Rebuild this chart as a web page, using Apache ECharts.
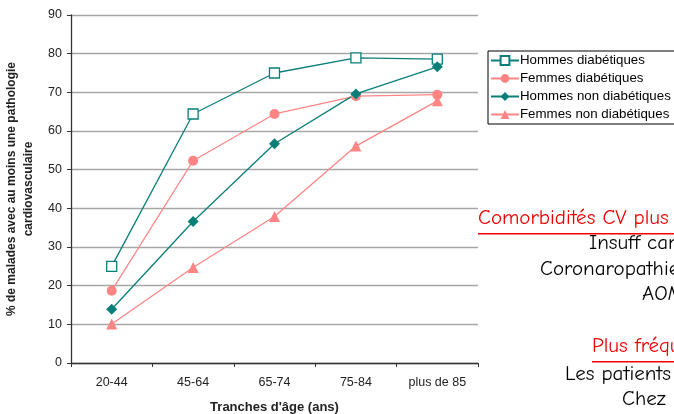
<!DOCTYPE html>
<html><head><meta charset="utf-8">
<script src="https://cdn.jsdelivr.net/npm/echarts@6/dist/echarts.min.js"></script>
<style>html,body{margin:0;padding:0;background:#fff}#c{width:674px;height:414px}</style>
</head><body><div id="c"></div>
<script>
var categories = ['20-44', '45-64', '65-74', '75-84', 'plus de 85'];
var hommesDiab = [25, 64.4, 75, 78.9, 78.6];
var femmesDiab = [18.7, 52.3, 64.4, 69, 69.4];
var hommesNonDiab = [13.9, 36.6, 56.7, 69.6, 76.6];
var femmesNonDiab = [10.1, 24.7, 37.9, 56.1, 67.8];
var seriesNames = ['Hommes diabétiques', 'Femmes diabétiques', 'Hommes non diabétiques', 'Femmes non diabétiques'];
var yTicks = [0, 10, 20, 30, 40, 50, 60, 70, 80, 90];

var teal = '#0a7f7a', pink = '#ff8585';
var chart = echarts.init(document.getElementById('c'));
function s(name, data, color, symbol, size, hollow) {
  return {
    name: name, type: 'line', data: data, symbol: symbol, symbolSize: size,
    showAllSymbol: true,
    lineStyle: { color: color, width: 1.3 },
    itemStyle: { color: hollow ? '#fff' : color, borderColor: color, borderWidth: hollow ? 1.3 : 0 },
    emphasis: { disabled: true }, animation: false
  };
}
var sideFont = '"Comic Sans MS","Comic Neue","DejaVu Sans",sans-serif';
var ff = 'Arial, "Liberation Sans", sans-serif';
chart.setOption({
  backgroundColor: '#fff',
  animation: false,
  grid: { left: 71, right: 196, top: 15, bottom: 51, containLabel: false, outerBoundsMode: 'none' },
  legend: {
    orient: 'vertical', left: 488, top: 51,
    data: seriesNames,
    itemWidth: 28, itemHeight: 11, itemGap: 5,
    borderColor: '#000', borderWidth: 1,
    padding: [3, 30, 3, 2],
    textStyle: { fontFamily: ff, fontSize: 13.3, color: '#000', padding: [0, 0, 0, -4] }
  },
  xAxis: {
    type: 'category', data: categories, boundaryGap: true,
    name: "Tranches d'âge (ans)", nameLocation: 'middle', nameGap: 38,
    nameTextStyle: { fontFamily: ff, fontWeight: 'bold', fontSize: 13, color: '#222' },
    axisLine: { lineStyle: { color: '#333', width: 1.3 } },
    axisTick: { show: true, alignWithLabel: false, length: 4, lineStyle: { color: '#333' } },
    axisLabel: { fontFamily: ff, fontSize: 12.5, color: '#222', margin: 13 }
  },
  yAxis: {
    type: 'value', min: yTicks[0], max: yTicks[yTicks.length - 1], interval: 10,
    name: '% de malades avec au moins une pathologie\ncardiovasculaire',
    nameLocation: 'middle', nameGap: 28, nameRotate: 90,
    nameTextStyle: { fontFamily: ff, fontWeight: 'bold', fontSize: 12, color: '#222', lineHeight: 17, align: 'center' },
    axisLine: { show: true, lineStyle: { color: '#333', width: 1.3 } },
    axisTick: { show: true, length: 4, lineStyle: { color: '#333' } },
    splitLine: { show: true, lineStyle: { color: '#a6a6a6', width: 1.3 } },
    axisLabel: { fontFamily: ff, fontSize: 12.5, color: '#222', margin: 9 }
  },
  series: [
    s(seriesNames[0], hommesDiab, teal, 'rect', 10, true),
    s(seriesNames[1], femmesDiab, pink, 'circle', 10, false),
    s(seriesNames[2], hommesNonDiab, teal, 'diamond', 11, false),
    s(seriesNames[3], femmesNonDiab, pink, 'triangle', 11, false)
  ],
  graphic: [
    { type: 'text', left: 478, top: 208, style: { text: 'Comorbidités CV plus', font: '21px ' + sideFont, fill: '#e00' } },
    { type: 'rect', shape: { x: 478, y: 233, width: 200, height: 1.5 }, style: { fill: '#e00' } },
    { type: 'text', left: 589, top: 233, style: { text: 'Insuff card', font: '21px ' + sideFont, fill: '#000' } },
    { type: 'text', left: 540, top: 259, style: { text: 'Coronaropathie', font: '21px ' + sideFont, fill: '#000' } },
    { type: 'text', left: 642, top: 284, style: { text: 'AOMI', font: '21px ' + sideFont, fill: '#000' } },
    { type: 'text', left: 592, top: 336, style: { text: 'Plus fréquentes', font: '21px ' + sideFont, fill: '#e00' } },
    { type: 'rect', shape: { x: 592, y: 361, width: 90, height: 1.5 }, style: { fill: '#e00' } },
    { type: 'text', left: 565, top: 364, style: { text: 'Les patients', font: '21px ' + sideFont, fill: '#000' } },
    { type: 'text', left: 622, top: 389, style: { text: 'Chez les', font: '21px ' + sideFont, fill: '#000' } }
  ]
});
</script></body></html>
